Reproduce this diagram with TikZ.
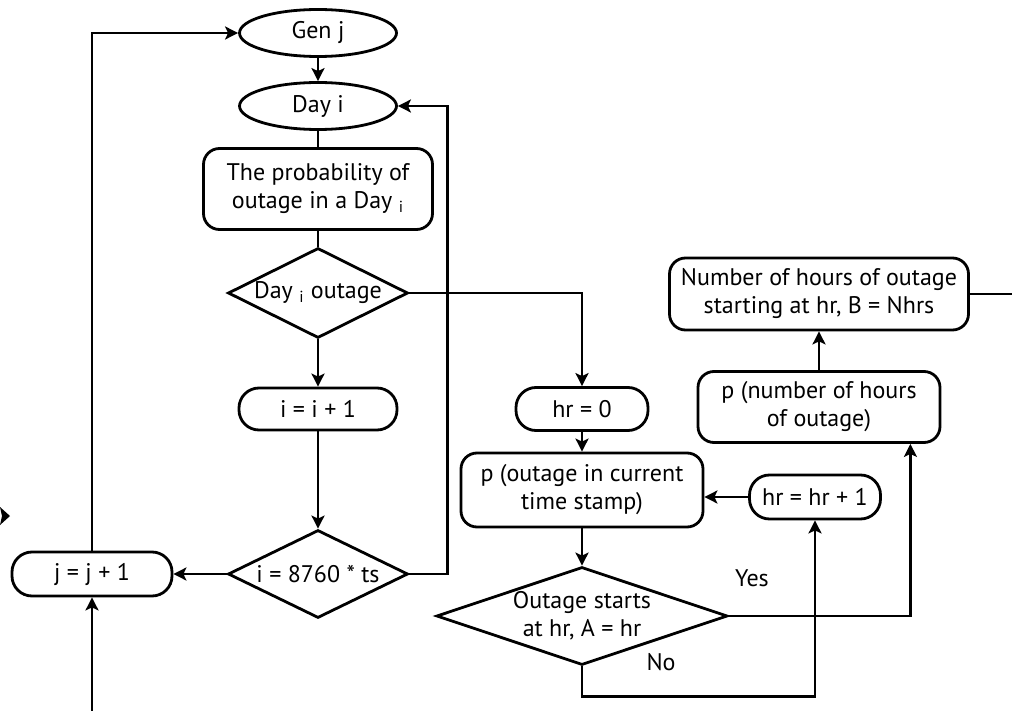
\documentclass[tikz,border=0pt]{standalone}
\usepackage{fontspec}
\setmainfont{PT Sans}
\usetikzlibrary{arrows.meta, positioning, shapes.geometric, calc}

\begin{document}
\begin{tikzpicture}[x=0.5pt, y=-0.5pt,
    line width=1.4pt,
    font=\fontsize{12}{14}\selectfont,
    term/.style={draw, ellipse, inner sep=0pt, minimum width=78.5pt, minimum height=23.5pt},
    proc/.style={draw, rounded corners=8pt, align=center, inner sep=0pt},
    pill/.style={draw, rounded corners=10pt, align=center, inner sep=0pt},
    decide/.style={draw, diamond, inner sep=0pt, align=center, aspect=2},
    arr/.style={-{Stealth[length=6.5pt, width=6.5pt, inset=1.5pt]}}
  ]
  \useasboundingbox (0,0) rectangle (1012,711);
  % day loop
  \node[term] (gen) at (318,33) {Gen j};
  \node[term] (day) at (318,106) {Day i};
  \node[proc, minimum width=114.5pt, minimum height=40.5pt] (prob) at (318,189) {The probability of\\outage in a Day \textsubscript{i}};
  \node[decide, minimum width=90pt, minimum height=45pt] (dayout) at (318,293) {Day \textsubscript{i} outage};
  \node[pill, minimum width=79pt, minimum height=21pt] (inc) at (318,409) {i = i + 1};
  \node[decide, minimum width=90pt, minimum height=44pt] (last) at (318,574) {i = 8760 * ts};
  \node[pill, minimum width=80pt, minimum height=22pt] (gennext) at (92,574) {j = j + 1};
  % hour loop
  \node[pill, minimum width=66pt, minimum height=21.5pt] (hr0) at (582,409) {hr = 0};
  \node[proc, minimum width=121pt, minimum height=37pt] (phr) at (582,490) {p (outage in current\\time stamp)};
  \node[pill, minimum width=65.5pt, minimum height=22pt] (hrinc) at (815,497) {hr = hr + 1};
  \node[decide, aspect=3, minimum width=145.5pt, minimum height=49pt] (starts) at (582,616) {Outage starts\\at hr, A = hr};
  \node[proc, minimum width=121pt, minimum height=35.5pt] (pnum) at (819,407) {p (number of hours\\of outage)};
  \node[proc, minimum width=149.5pt, minimum height=36pt] (nhrs) at (819,294) {Number of hours of outage\\starting at hr, B = Nhrs};
  \node (yes) at (752,578) {Yes};
  \node (no) at (661,662) {No};
  \coordinate (in) at (92,711);
  \coordinate (out) at (1012,294);

  \draw[arr] (gen) -- (day);
  \draw (day) -- (prob);
  \draw (prob) -- (dayout);
  \draw[arr] (dayout) -- (inc);
  \draw[arr] (inc) -- (last);
  \draw[arr] (last) -- (gennext);
  \draw[arr] (gennext.north) |- (gen.west);
  \draw[arr] (in) -- (gennext.south);
  \draw[arr] (last.east) -- ++(38,0) |- (day.east);
  \draw[arr] (dayout.east) -| (hr0.north);
  \draw[arr] (hr0) -- (phr);
  \draw[arr] (phr) -- (starts);
  \draw[arr] (hrinc.west) -- (hrinc.west -| phr.east);
  \draw[arr] (starts.east) -| ([xshift=-15.5pt]pnum.south east);
  \draw[arr] (starts.south) -- ++(0,30) -| (hrinc.south);
  \draw[arr] (pnum.north) -- (pnum.north |- nhrs.south);
  \draw (nhrs.east) -- (out);
  % cut-off arrow tip at the left edge
  \fill (0,507) -- (10,516) -- (0,525) -- (2,516) -- cycle;
\end{tikzpicture}
\end{document}
